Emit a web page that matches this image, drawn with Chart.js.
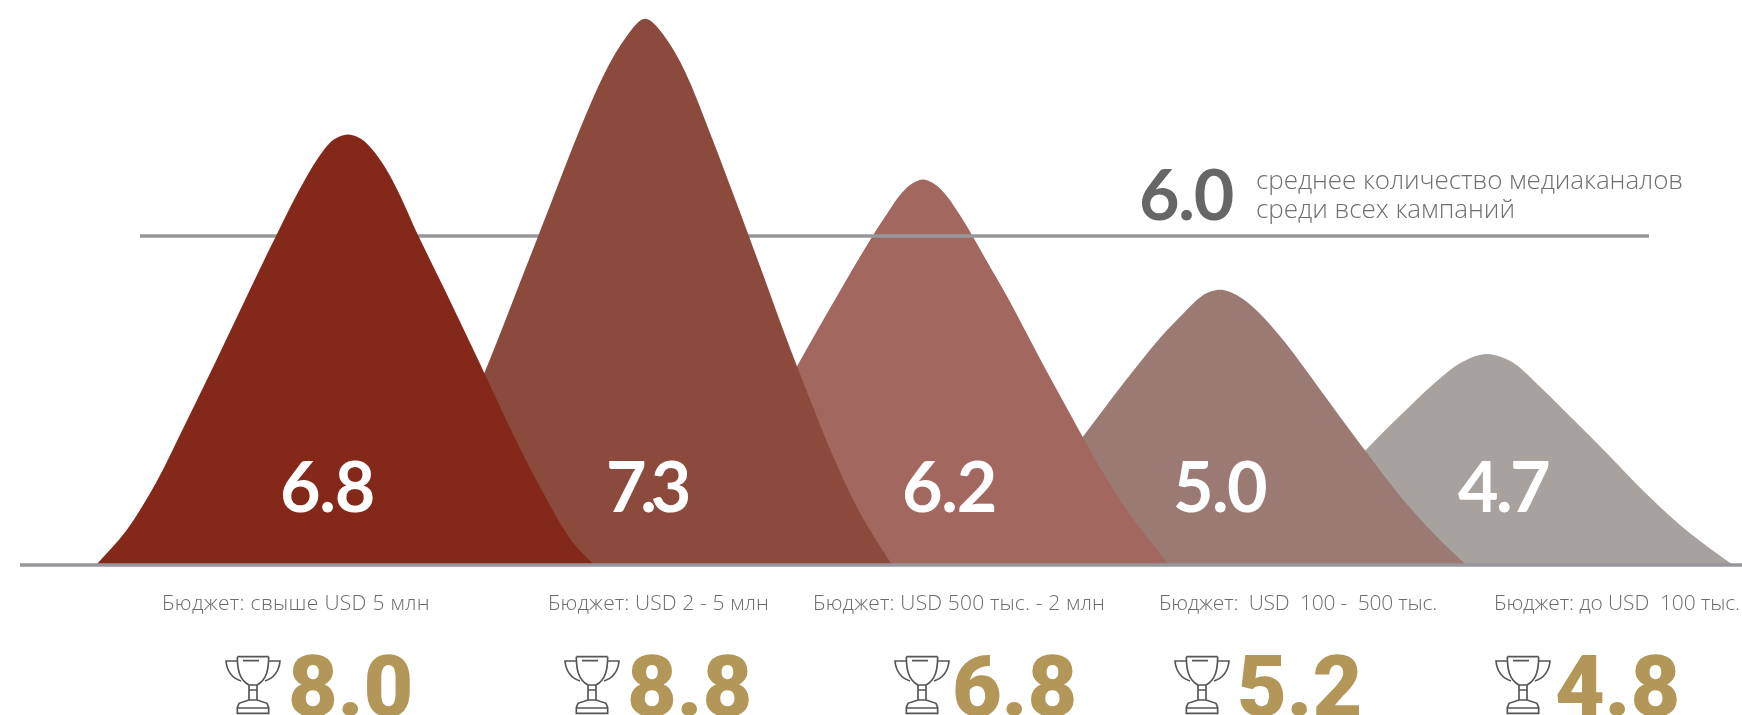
<!DOCTYPE html>
<html>
<head>
<meta charset="utf-8">
<title>Медиаканалы по бюджету</title>
<script src="https://cdn.jsdelivr.net/npm/chart.js@4"></script>
<style>
  html, body { margin: 0; padding: 0; background: #fff; overflow: hidden; }
  canvas { display: block; }
</style>
</head>
<body>
<canvas id="peaks" width="1742" height="715"></canvas>
<script>
const budgetLabels = [
  'Бюджет: свыше USD 5 млн',
  'Бюджет: USD 2 - 5 млн',
  'Бюджет: USD 500 тыс. - 2 млн',
  'Бюджет:  USD  100 -  500 тыс.',
  'Бюджет: до USD  100 тыс.'
];
const avgChannels = [6.8, 7.3, 6.2, 5.0, 4.7];
const bestChannels = [8.0, 8.8, 6.8, 5.2, 4.8];
const meanChannels = 6.0;
const meanLines = ['среднее количество медиаканалов', 'среди всех кампаний'];

// Outlines of the five peaks
const peak1X = [96, 126, 156, 186, 216, 246, 276, 306, 330, 348, 366, 390, 420, 450, 480, 510, 540, 570, 594];
const peak1Y = [0, 0.62, 1.5, 2.6, 3.72, 4.87, 6.0, 7.06, 7.7, 7.85, 7.7, 7.1, 5.94, 4.82, 3.67, 2.5, 1.42, 0.48, 0];
const peak2X = [400, 430, 460, 490, 520, 550, 580, 605, 627, 645, 663, 685, 710, 735, 760, 785, 810, 835, 860, 892];
const peak2Y = [0, 1.2, 2.45, 3.75, 5.15, 6.55, 7.95, 8.98, 9.65, 9.96, 9.68, 9.0, 7.88, 6.68, 5.45, 4.2, 3.02, 1.9, 0.95, 0];
const peak3X = [677, 710, 740, 770, 800, 830, 860, 885, 905, 923, 941, 961, 985, 1010, 1040, 1070, 1100, 1130, 1169];
const peak3Y = [0, 0.85, 1.8, 2.75, 3.72, 4.68, 5.62, 6.35, 6.85, 7.03, 6.85, 6.35, 5.6, 4.8, 3.76, 2.76, 1.78, 0.92, 0];
const peak4X = [976, 1010, 1045, 1085, 1125, 1160, 1185, 1203, 1220, 1237, 1258, 1285, 1320, 1360, 1400, 1435, 1466];
const peak4Y = [0, 0.64, 1.45, 2.39, 3.35, 4.14, 4.62, 4.92, 5.02, 4.92, 4.62, 4.06, 3.2, 2.21, 1.26, 0.55, 0];
const peak5X = [1260, 1300, 1335, 1366, 1400, 1436, 1462, 1487, 1512, 1540, 1575, 1610, 1645, 1680, 1710, 1733];
const peak5Y = [0, 0.7, 1.5, 2.1, 2.72, 3.34, 3.7, 3.85, 3.7, 3.25, 2.62, 1.98, 1.32, 0.73, 0.3, 0];

const peakColors = ['#84281a', '#8b4a3c', '#a26860', '#9b7a74', '#a8a29e'];

const pts = (xs, ys) => xs.map((x, i) => ({ x: x, y: ys[i] }));

function peakSet(xs, ys, color) {
  return {
    data: pts(xs, ys),
    backgroundColor: color,
    borderWidth: 0,
    pointRadius: 0,
    tension: 0.33,
    fill: { value: 0 }
  };
}

function ruleSet(x0, x1, value) {
  return {
    data: [{ x: x0, y: value }, { x: x1, y: value }],
    borderColor: '#97979b',
    borderWidth: 3.5,
    pointRadius: 0,
    fill: false
  };
}

// draw text stretched or squeezed to the width it has in the picture
function fitText(ctx, text, x, y, width) {
  ctx.letterSpacing = '0px';
  const w = ctx.measureText(text).width;
  ctx.letterSpacing = ((width - w) / text.length) + 'px';
  ctx.fillText(text, x, y);
  ctx.letterSpacing = '0px';
}

function drawTrophy(ctx, cx) {
  ctx.save();
  ctx.translate(cx, 650);
  ctx.scale(1 / 3, 1 / 3);
  ctx.strokeStyle = '#555';
  ctx.lineWidth = 5;
  ctx.beginPath();
  // cup
  ctx.moveTo(-47, 20); ctx.lineTo(47, 20);
  ctx.moveTo(-47, 20);
  ctx.bezierCurveTo(-47, 60, -40, 90, -12, 105);
  ctx.moveTo(47, 20);
  ctx.bezierCurveTo(47, 60, 40, 90, 12, 105);
  ctx.moveTo(-12, 105); ctx.lineTo(12, 105);
  ctx.moveTo(-30, 32); ctx.lineTo(18, 32);
  // handles
  ctx.moveTo(-47, 33); ctx.lineTo(-81, 33);
  ctx.bezierCurveTo(-78, 65, -60, 85, -36, 93);
  ctx.moveTo(47, 33); ctx.lineTo(81, 33);
  ctx.bezierCurveTo(78, 65, 60, 85, 36, 93);
  // stem and base
  ctx.moveTo(-12, 105); ctx.lineTo(-12, 150);
  ctx.moveTo(12, 105); ctx.lineTo(12, 150);
  ctx.moveTo(-12, 120); ctx.lineTo(12, 120);
  ctx.moveTo(-12, 150); ctx.lineTo(12, 150);
  ctx.moveTo(-12, 150); ctx.lineTo(-42, 160); ctx.lineTo(-47, 172); ctx.lineTo(-47, 190);
  ctx.lineTo(47, 190); ctx.lineTo(47, 172); ctx.lineTo(42, 160); ctx.lineTo(12, 150);
  ctx.moveTo(-47, 174); ctx.lineTo(47, 174);
  ctx.stroke();
  ctx.restore();
}

// Text spots in page pixels, they do not follow the data scales in the original
const avgStarts = [280, 606, 902, 1173, 1458];
const avgWidths = [94, 79, 94, 93, 90];
const budgetStarts = [162, 548, 813, 1159, 1494];
const budgetWidths = [268, 221, 292, 278, 246];
const trophyCenters = [253, 592, 922, 1202, 1523];
const bestStarts = [288, 627, 952, 1237, 1555];
const bestWidth = 125;

const labelPlugin = {
  id: 'labelPlugin',
  afterDraw(chart) {
    const ctx = chart.ctx;
    ctx.save();
    ctx.textBaseline = 'alphabetic';
    ctx.textAlign = 'left';

    // white numbers inside the peaks
    ctx.fillStyle = '#fff';
    ctx.font = '700 70px Lato';
    avgChannels.forEach((v, i) => fitText(ctx, v.toFixed(1), avgStarts[i], 512, avgWidths[i]));

    // mean note
    ctx.fillStyle = '#666';
    fitText(ctx, meanChannels.toFixed(1), 1139, 220, 94);
    ctx.fillStyle = '#707070';
    ctx.font = '300 26px "Open Sans"';
    fitText(ctx, meanLines[0], 1256, 189, 427);
    fitText(ctx, meanLines[1], 1256, 218, 259);

    // budget captions
    ctx.font = '300 21px "Open Sans"';
    ctx.fillStyle = '#6c6c6c';
    budgetLabels.forEach((t, i) => fitText(ctx, t, budgetStarts[i], 610, budgetWidths[i]));

    // trophies and gold numbers
    trophyCenters.forEach(cx => drawTrophy(ctx, cx));
    ctx.fillStyle = '#b39758';
    ctx.font = '900 86px Roboto';
    bestChannels.forEach((v, i) => fitText(ctx, v.toFixed(1), bestStarts[i], 716, bestWidth));
    ctx.restore();
  }
};

new Chart(document.getElementById('peaks').getContext('2d'), {
  type: 'line',
  data: {
    // first in the list is drawn on top
    datasets: [
      ruleSet(20, 1742, 0),
      peakSet(peak1X, peak1Y, peakColors[0]),
      peakSet(peak2X, peak2Y, peakColors[1]),
      ruleSet(140, 1649, meanChannels),
      peakSet(peak3X, peak3Y, peakColors[2]),
      peakSet(peak4X, peak4Y, peakColors[3]),
      peakSet(peak5X, peak5Y, peakColors[4])
    ]
  },
  options: {
    responsive: false,
    animation: false,
    layout: { padding: 0 },
    plugins: { legend: { display: false }, tooltip: { enabled: false } },
    scales: {
      x: { type: 'linear', display: false, min: 0, max: 1742 },
      y: { type: 'linear', display: false, min: -2.736, max: 10.304 }
    }
  },
  plugins: [labelPlugin]
});
</script>
</body>
</html>
